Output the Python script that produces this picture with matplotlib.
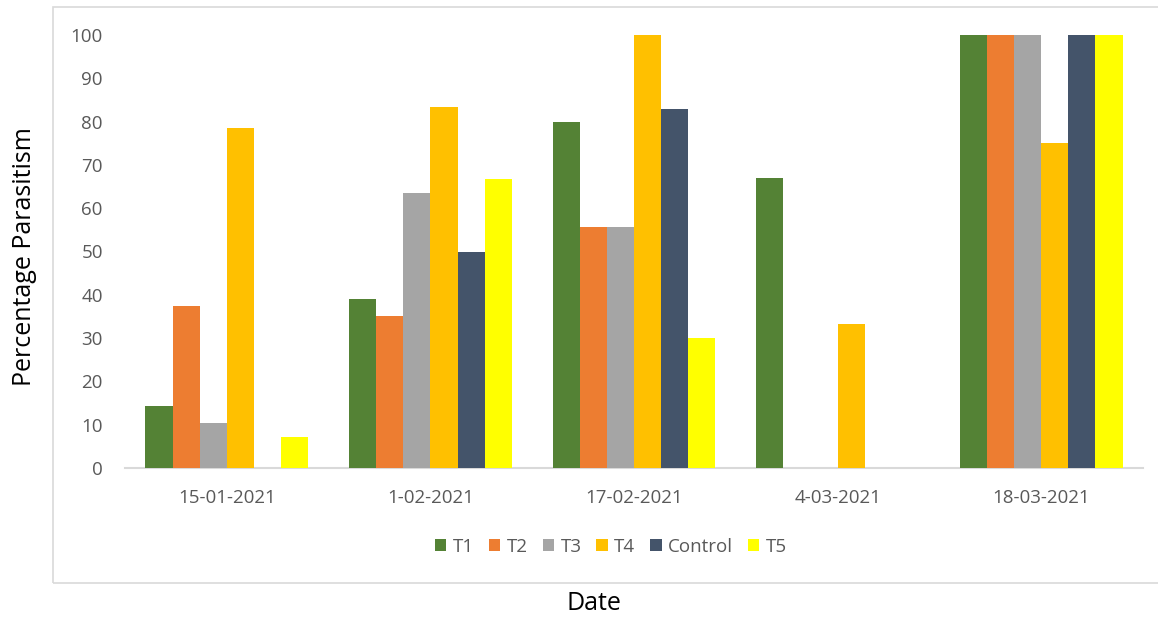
import numpy as np
import matplotlib.pyplot as plt
from matplotlib.patches import Rectangle

plt.rcParams['font.family'] = ['Open Sans', 'DejaVu Sans']

dates = ['15-01-2021', '1-02-2021', '17-02-2021', '4-03-2021', '18-03-2021']
series = ['T1', 'T2', 'T3', 'T4', 'Control', 'T5']
t1 = [14.3, 39.0, 80.0, 67.0, 100]
t2 = [37.5, 35.1, 55.6, 0, 100]
t3 = [10.5, 63.6, 55.6, 0, 100]
t4 = [78.6, 83.3, 100, 33.3, 75]
control = [0, 50.0, 83.0, 0, 100]
t5 = [7.1, 66.7, 30.0, 0, 100]
values = [t1, t2, t3, t4, control, t5]
colors = ['#548235', '#ED7D31', '#A5A5A5', '#FFC000', '#44546A', '#FFFF00']

fig = plt.figure(figsize=(11.58, 6.17), dpi=100)
W, H = 1158, 617

# outer chart frame
fig.patches.append(Rectangle((53 / W, 1 - 583 / H), (1160 - 53) / W, (583 - 7) / H,
                             transform=fig.transFigure, fill=False,
                             edgecolor='#d9d9d9', linewidth=1.2, zorder=0))

ax = fig.add_axes([125 / W, 1 - 468 / H, (1143 - 125) / W, (468 - 35) / H])

n = len(series)
bw = 1 / (n + 1.5)
x = np.arange(len(dates))
for i, (name, vals, c) in enumerate(zip(series, values, colors)):
    offs = (i - (n - 1) / 2) * bw
    ax.bar(x + offs, vals, width=bw, color=c, label=name,
           linewidth=0, clip_on=False, zorder=3)

ax.set_xlim(-0.5, len(dates) - 0.5)
ax.set_ylim(0, 100)
ax.set_yticks(np.arange(0, 101, 10))
ax.set_xticks(x)
ax.set_xticklabels(dates)
for s in ['top', 'right', 'left']:
    ax.spines[s].set_visible(False)
ax.spines['bottom'].set_color('#d9d9d9')
ax.spines['bottom'].set_linewidth(1.5)
ax.tick_params(axis='both', length=0, labelsize=13.5, labelcolor='#595959')
ax.tick_params(axis='y', pad=16)
ax.tick_params(axis='x', pad=15)

fig.text(25 / W, 1 - 257 / H, 'Percentage Parasitism', rotation=90,
         ha='center', va='center', fontsize=18, color='black')
fig.text(594 / W, 1 - 603 / H, 'Date', ha='center', va='center',
         fontsize=18, color='black')

leg = fig.legend(loc='center', bbox_to_anchor=(611 / W, 1 - 547 / H), ncol=6,
                 frameon=False, fontsize=13.5, handlelength=0.6,
                 handleheight=0.6, handletextpad=0.35, columnspacing=0.8)
for t in leg.get_texts():
    t.set_color('#595959')

fig.savefig('out.png', dpi=100)
